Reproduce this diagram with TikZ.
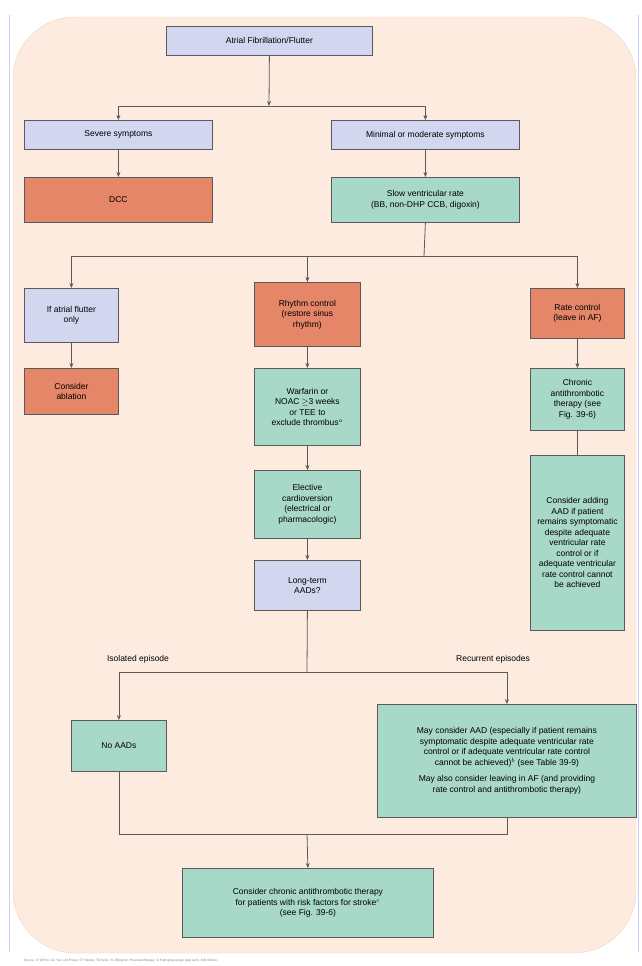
\documentclass[tikz,border=0pt]{standalone}
\usepackage{fontspec}
\setmainfont{Liberation Sans}
\usetikzlibrary{arrows.meta}
\definecolor{bgpeach}{RGB}{253,235,224}
\definecolor{boxblue}{RGB}{210,214,238}
\definecolor{boxorange}{RGB}{229,134,104}
\definecolor{boxgreen}{RGB}{168,216,200}
\definecolor{edgegray}{RGB}{90,90,90}
\begin{document}
\begin{tikzpicture}[x=1pt, y=-1pt, font=\fontsize{8.5}{10.5}\selectfont]
    \tikzstyle{every node} = [align=center]
    \tikzstyle{box} = [draw=edgegray, line width=0.8pt, inner sep=2pt, anchor=north west]
    \tikzstyle{query} = [box, fill=boxblue]
    \tikzstyle{action} = [box, fill=boxorange]
    \tikzstyle{drug} = [box, fill=boxgreen]
    \tikzstyle{link} = [draw=edgegray, line width=0.8pt]
    \tikzstyle{flow} = [link, -{Stealth[length=5pt,width=4pt]}]
    \useasboundingbox (0,0) rectangle (642,966);
    \fill[white] (0,0) rectangle (642,966);
    \draw[blue!20, line width=1pt] (9,15) -- (9,952);
    \draw[blue!20, line width=1pt] (638,15) -- (638,952);
    \draw[fill=bgpeach, draw=bgpeach!80!brown, rounded corners=62pt] (13,17) rectangle (636,953);
    % top level
    \node[query, minimum width=206pt, minimum height=29pt] (af) at (166,26) {Atrial Fibrillation/Flutter};
    \node[query, minimum width=188pt, minimum height=29pt] (severe) at (24,120) {Severe symptoms};
    \node[query, minimum width=188pt, minimum height=29pt] (minimal) at (331,120) {Minimal or moderate symptoms};
    \node[action, minimum width=188pt, minimum height=45pt] (dcc) at (24,177) {DCC};
    \node[drug, minimum width=188pt, minimum height=45pt] (slow) at (331,177) {Slow ventricular rate\\(BB, non-DHP CCB, digoxin)};
    % three branches
    \node[query, minimum width=94pt, minimum height=54pt] (flutter) at (24,288) {If atrial flutter\\only};
    \node[action, minimum width=106pt, minimum height=64pt] (rhythm) at (254,282) {Rhythm control\\(restore sinus\\rhythm)};
    \node[action, minimum width=94pt, minimum height=50pt] (rate) at (530,288) {Rate control\\(leave in AF)};
    \node[action, minimum width=94pt, minimum height=46pt] (ablation) at (24,368) {Consider\\ablation};
    \node[drug, minimum width=106pt, minimum height=77pt] (warfarin) at (254,368) {Warfarin or\\NOAC $\geq$3 weeks\\or TEE to\\exclude thrombus$^{a}$};
    \node[drug, minimum width=94pt, minimum height=62pt] (chronic) at (530,368) {Chronic\\antithrombotic\\therapy (see\\Fig. 39-6)};
    \node[drug, minimum width=94pt, minimum height=175pt] (adding) at (530,455) {Consider adding\\AAD if patient\\remains symptomatic\\despite adequate\\ventricular rate\\control or if\\adequate ventricular\\rate control cannot\\be achieved};
    \node[drug, minimum width=106pt, minimum height=68pt] (elective) at (254,470) {Elective\\cardioversion\\(electrical or\\pharmacologic)};
    \node[query, minimum width=106pt, minimum height=50pt] (longterm) at (254,560) {Long-term\\AADs?};
    % episodes
    \node (isolated) at (138,659) {Isolated episode};
    \node (recurrent) at (493,659) {Recurrent episodes};
    \node[drug, minimum width=95pt, minimum height=51pt] (noaad) at (71,720) {No AADs};
    \node[drug, minimum width=259pt, minimum height=113pt] (mayaad) at (377,704) {May consider AAD (especially if patient remains\\symptomatic despite adequate ventricular rate\\control or if adequate ventricular rate control\\cannot be achieved)$^{b}$ (see Table 39-9)\\[6pt]May also consider leaving in AF (and providing\\rate control and antithrombotic therapy)};
    \node[drug, minimum width=251pt, minimum height=69pt] (stroke) at (182,868) {Consider chronic antithrombotic therapy\\for patients with risk factors for stroke$^{c}$\\(see Fig. 39-6)};
    \node[anchor=west, font=\fontsize{3.2}{4}\selectfont, text=gray] (source) at (20,961) {Source: JT DiPiro, GC Yee, LM Posey, ST Haines, TD Nolin, VL Ellingrod: Pharmacotherapy: A Pathophysiologic Approach, 11th Edition.};
    % connectors
    \coordinate (j1) at (269,106);
    \coordinate (j2) at (424,256);
    \coordinate (j3) at (307,672);
    \coordinate (j4) at (307,834);
    \draw[flow] (af.south) -- (j1);
    \draw[flow] (j1) -| (severe.north);
    \draw[flow] (j1) -| (minimal.north);
    \draw[flow] (severe) -- (dcc);
    \draw[flow] (minimal) -- (slow);
    \draw[link] (slow.south) -- (j2);
    \draw[flow] (j2) -| (flutter.north);
    \draw[flow] (j2) -| (rhythm.north);
    \draw[flow] (j2) -| (rate.north);
    \draw[flow] (flutter) -- (ablation);
    \draw[flow] (rhythm) -- (warfarin);
    \draw[flow] (warfarin) -- (elective);
    \draw[flow] (elective) -- (longterm);
    \draw[flow] (rate) -- (chronic);
    \draw[link] (chronic) -- (adding);
    \draw[link] (longterm.south) -- (j3);
    \draw[flow] (j3) -| (noaad.north);
    \draw[flow] (j3) -| (mayaad.north);
    \draw[link] (noaad.south) |- (j4);
    \draw[link] (mayaad.south) |- (j4);
    \draw[flow] (j4) -- (stroke.north);
\end{tikzpicture}
\end{document}
